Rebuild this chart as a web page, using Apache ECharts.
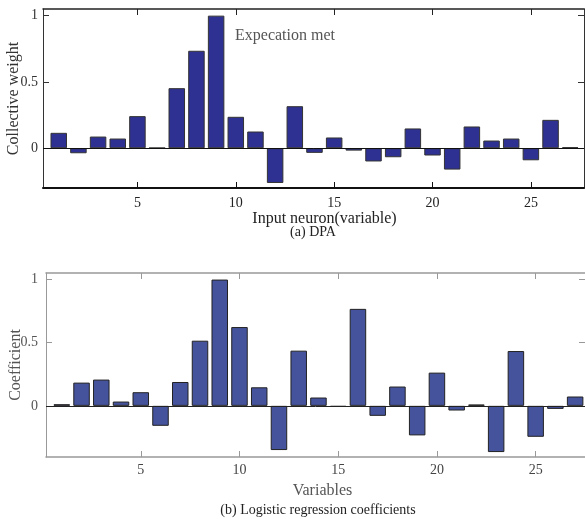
<!DOCTYPE html>
<html>
<head>
<meta charset="utf-8">
<script src="https://cdn.jsdelivr.net/npm/echarts@6/dist/echarts.min.js"></script>
<style>
  html, body { margin: 0; padding: 0; background: #ffffff; }
  #chart { width: 585px; height: 519px; }
</style>
</head>
<body>
<div id="chart"></div>
<script>
// 变量编号 1..27
var variables = [1, 2, 3, 4, 5, 6, 7, 8, 9, 10, 11, 12, 13, 14, 15, 16, 17, 18, 19, 20, 21, 22, 23, 24, 25, 26, 27];
// (a) DPA collective weight
var dpaWeights = [0.116, -0.038, 0.088, 0.073, 0.242, 0.003, 0.453, 0.735, 1.0, 0.237, 0.126, -0.262, 0.317,
  -0.035, 0.081, -0.018, -0.10, -0.068, 0.149, -0.055, -0.161, 0.164, 0.058, 0.073, -0.091, 0.214, 0.008];
// (b) logistic regression coefficients
var logitCoefs = [0.013, 0.184, 0.208, 0.034, 0.108, -0.158, 0.189, 0.516, 1.0, 0.624, 0.147, -0.35, 0.437,
  0.066, -0.008, 0.768, -0.079, 0.153, -0.234, 0.263, -0.037, 0.011, -0.366, 0.434, -0.245, -0.024, 0.074];
var xTicks = [5, 10, 15, 20, 25];
var yTicks = [0, 0.5, 1];

var FONT = '"Liberation Serif", "DejaVu Serif", serif';

function pairs(vals) {
  return variables.map(function (v, i) { return [v, vals[i]]; });
}

var chart = echarts.init(document.getElementById('chart'), null, { renderer: 'canvas' });

// 坐标轴的公共样式
function xAxisMain(gridIndex, min, max, color, lineWidth, labelColor, margin) {
  return {
    type: 'value', gridIndex: gridIndex, min: min, max: max, position: 'bottom',
    axisLine: { show: true, onZero: false, lineStyle: { color: color, width: lineWidth } },
    axisTick: { show: true, inside: true, length: 6, customValues: xTicks, lineStyle: { color: color, width: 1 } },
    axisLabel: { show: true, customValues: xTicks, margin: margin, color: labelColor, fontFamily: FONT, fontSize: 14 },
    splitLine: { show: false }
  };
}
function xAxisTop(gridIndex, min, max, color, lineWidth) {
  return {
    type: 'value', gridIndex: gridIndex, min: min, max: max, position: 'top',
    axisLine: { show: true, onZero: false, lineStyle: { color: color, width: lineWidth } },
    axisTick: { show: true, inside: true, length: 6, customValues: xTicks, lineStyle: { color: color, width: 1 } },
    axisLabel: { show: false },
    splitLine: { show: false }
  };
}
function yAxisMain(gridIndex, min, max, color, labelColor, margin, name, nameGap) {
  return {
    type: 'value', gridIndex: gridIndex, min: min, max: max, position: 'left',
    name: name, nameLocation: 'middle', nameGap: nameGap, nameMoveOverlap: false,
    nameTextStyle: { color: labelColor, fontFamily: FONT, fontSize: 16 },
    axisLine: { show: true, onZero: false, lineStyle: { color: color, width: 1 } },
    axisTick: { show: true, inside: true, length: 6, customValues: yTicks, lineStyle: { color: color, width: 1 } },
    axisLabel: { show: true, customValues: yTicks, margin: margin, color: labelColor, fontFamily: FONT, fontSize: 14,
      formatter: function (v) { return String(v); } },
    splitLine: { show: false }
  };
}
function yAxisRight(gridIndex, min, max, color) {
  return {
    type: 'value', gridIndex: gridIndex, min: min, max: max, position: 'right',
    axisLine: { show: true, onZero: false, lineStyle: { color: color, width: 1 } },
    axisTick: { show: true, inside: true, length: 6, customValues: yTicks, lineStyle: { color: color, width: 1 } },
    axisLabel: { show: false },
    splitLine: { show: false }
  };
}

var topX = xAxisMain(0, 0.2, 27.7, '#111', 2, '#222', 8);
topX.name = 'Input neuron(variable)';
topX.nameLocation = 'middle';
topX.nameGap = 23;
topX.nameMoveOverlap = false;
topX.nameTextStyle = { color: '#222', fontFamily: FONT, fontSize: 16, padding: [0, 0, 0, 22] };

var botX = xAxisMain(1, 0.2, 27.5, '#999', 1.5, '#444', 6);
botX.name = 'Variables';
botX.nameLocation = 'middle';
botX.nameGap = 26;
botX.nameMoveOverlap = false;
botX.nameTextStyle = { color: '#555', fontFamily: FONT, fontSize: 16, padding: [0, 0, 0, 14] };

var option = {
  animation: false,
  backgroundColor: '#ffffff',
  grid: [
    { left: 43, top: 9, right: 1, height: 179, containLabel: false, outerBoundsMode: 'none' },
    { left: 46, top: 273, right: 0, height: 184, containLabel: false, outerBoundsMode: 'none' }
  ],
  xAxis: [
    topX,
    xAxisTop(0, 0.2, 27.7, '#222', 1.5),
    botX,
    xAxisTop(1, 0.2, 27.5, '#999', 1.5)
  ],
  yAxis: [
    yAxisMain(0, -0.3, 1.05, '#333', '#333', 5, 'Collective weight', 21),
    yAxisRight(0, -0.3, 1.05, '#333'),
    yAxisMain(1, -0.405, 1.052, '#999', '#555', 8, 'Coefficient', 22),
    yAxisRight(1, -0.405, 1.052, '#999')
  ],
  series: [
    {
      type: 'bar', xAxisIndex: 0, yAxisIndex: 0,
      data: pairs(dpaWeights),
      barWidth: 16.5,
      itemStyle: { color: '#2e3192', borderColor: '#333333', borderWidth: 1 },
      markLine: {
        silent: true, symbol: 'none', label: { show: false },
        lineStyle: { color: '#111', width: 1, type: 'solid' },
        data: [{ yAxis: 0 }]
      }
    },
    {
      type: 'bar', xAxisIndex: 2, yAxisIndex: 2,
      data: pairs(logitCoefs),
      barWidth: 16.5,
      itemStyle: { color: '#45539d', borderColor: '#222222', borderWidth: 1 },
      markLine: {
        silent: true, symbol: 'none', label: { show: false },
        lineStyle: { color: '#222', width: 1, type: 'solid' },
        data: [{ yAxis: 0 }]
      }
    }
  ],
  graphic: [
    { type: 'text', left: 235, top: 28, style: { text: 'Expecation met', fill: '#555', font: '16px ' + FONT } },
    { type: 'text', x: 313, y: 232, style: { text: '(a) DPA', fill: '#222', font: '14px ' + FONT, align: 'center', verticalAlign: 'middle' } },
    { type: 'text', x: 318, y: 510, style: { text: '(b) Logistic regression coefficients', fill: '#222', font: '14px ' + FONT, align: 'center', verticalAlign: 'middle' } }
  ]
};

chart.setOption(option);
</script>
</body>
</html>
